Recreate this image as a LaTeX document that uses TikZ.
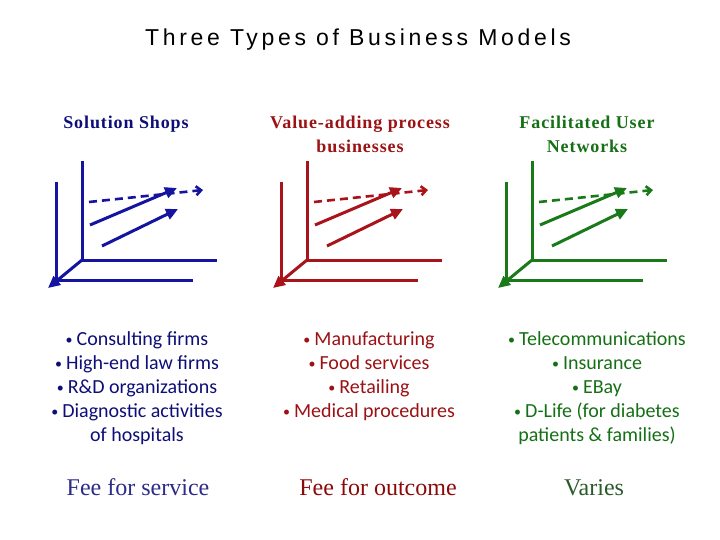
\documentclass[tikz,border=0pt]{standalone}
\usepackage{fontspec}
\setmainfont{Liberation Serif}
\newfontfamily\titlefont[LetterSpace=16]{Liberation Sans}
\newfontfamily\headfont[LetterSpace=5]{Liberation Serif}
\newfontfamily\listfont{Carlito}
\usetikzlibrary{arrows.meta}
\definecolor{shopline}{HTML}{1414A0}
\definecolor{valueline}{HTML}{A8141A}
\definecolor{netline}{HTML}{1A7A1A}
\definecolor{shoptext}{HTML}{0E0E78}
\definecolor{valuetext}{HTML}{9B1114}
\definecolor{nettext}{HTML}{157015}
\definecolor{shopfee}{HTML}{2B2B88}
\definecolor{valuefee}{HTML}{8A0A0A}
\definecolor{netfee}{HTML}{2A5A2A}
\newcommand{\bul}{{\fontsize{14}{14}\selectfont\raisebox{1pt}{•}}\hspace{4pt}}

\begin{document}
\begin{tikzpicture}[x=1pt,y=-1pt,
  axis/.style={line width=3pt},
  trend/.style={line width=3pt,-{Triangle[length=12pt,width=11pt]}},
  plan/.style={line width=2.6pt,dash pattern=on 8pt off 5pt,
    -{Straight Barb[length=5pt,width=9pt]}},
  head/.style={font=\headfont\bfseries\fontsize{18}{24}\selectfont,
    align=center,anchor=base,inner sep=0pt},
  items/.style={font=\listfont\fontsize{20}{24}\selectfont,
    align=center,anchor=base,inner sep=0pt},
  fee/.style={font=\fontsize{24}{28}\selectfont,anchor=base,inner sep=0pt}]
 \useasboundingbox (0,0) rectangle (720,540);
 \node[font=\titlefont\fontsize{23}{27}\selectfont,anchor=base,inner sep=0pt]
   (title) at (358,46) {Three Types of Business Models};
 % one axis sketch per model
 \foreach \dx/\c in {0/shopline,225/valueline,450/netline}{
  \begin{scope}[xshift=\dx pt,color=\c]
   \coordinate (o) at (82,260);
   \draw[axis] (82,161) -- (o) -- (217,260);
   \draw[axis] (56,182) -- (56,280) -- (193,280);
   \draw[trend] (o) -- (48,288);
   \draw[plan] (89,202) -- (203,190);
   \draw[trend] (90,225) -- (177,188);
   \draw[trend] (102,246) -- (178,209);
  \end{scope}}
 % base anchor sits on the last line
 \node[head,text=shoptext] (shops) at (126,128.5) {Solution Shops};
 \node[head,text=valuetext] (value) at (360,152.5) {Value-adding process\\businesses};
 \node[head,text=nettext] (net) at (587,152.5) {Facilitated User\\Networks};
 \node[items,text=shoptext] (shopcases) at (137,441.5)
   {\bul Consulting firms\\\bul High-end law firms\\\bul R\&D organizations\\
    \bul Diagnostic activities\\of hospitals};
 \node[items,text=valuetext] (valuecases) at (369,417.5)
   {\bul Manufacturing\\\bul Food services\\\bul Retailing\\\bul Medical procedures};
 \node[items,text=nettext] (netcases) at (597,441.5)
   {\bul Telecommunications\\\bul Insurance\\\bul EBay\\
    \bul D-Life (for diabetes\\patients \& families)};
 \node[fee,text=shopfee] (shopfee) at (138,495) {Fee for service};
 \node[fee,text=valuefee] (valuefee) at (378,495) {Fee for outcome};
 \node[fee,text=netfee] (netfee) at (594,495) {Varies};
\end{tikzpicture}
\end{document}
